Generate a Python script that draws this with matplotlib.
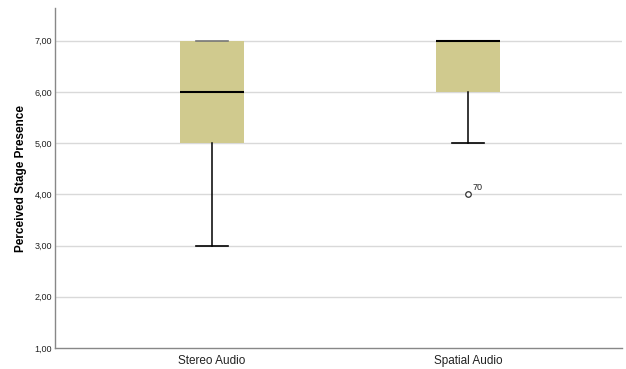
import matplotlib
matplotlib.use("Agg")
import matplotlib.pyplot as plt
from matplotlib.ticker import FuncFormatter

plt.rcParams['font.family'] = ['Liberation Sans', 'DejaVu Sans']

groups = ["Stereo Audio", "Spatial Audio"]
whisker_low = [3, 5]
q1 = [5, 6]
median = [6, 7]
q3 = [7, 7]
whisker_high = [7, 7]
outliers = [[], [4]]
outlier_ids = [[], ["70"]]
y_ticks = [1, 2, 3, 4, 5, 6, 7]

stats = []
for i, g in enumerate(groups):
    stats.append(dict(label=g, whislo=whisker_low[i], q1=q1[i], med=median[i],
                      q3=q3[i], whishi=whisker_high[i], fliers=outliers[i]))

fig = plt.figure(figsize=(6.26, 3.69), dpi=100)
ax = fig.add_axes([55 / 626, 1 - 348 / 369, 567 / 626, 340 / 369])

for t in y_ticks[1:]:
    ax.axhline(t, color="#d9d9d9", lw=1.0, zorder=0)

pos = list(range(len(groups)))
parts = ax.bxp(stats, positions=pos, widths=0.25, patch_artist=True, showfliers=True,
               boxprops=dict(facecolor="#d0ca8e", edgecolor="none"),
               medianprops=dict(color="black", lw=1.5),
               whiskerprops=dict(color="black", lw=1.1),
               capprops=dict(color="black", lw=1.2),
               capwidths=0.125,
               flierprops=dict(marker="o", markersize=4, markerfacecolor="white",
                               markeredgecolor="#333333", markeredgewidth=0.9))

# an upper cap sitting on the box edge (no median there) is drawn muted
for i in range(len(groups)):
    if whisker_high[i] == q3[i] and median[i] != q3[i]:
        parts["caps"][2 * i + 1].set_color("#777777")

for i, (vals, ids) in enumerate(zip(outliers, outlier_ids)):
    for v, lab in zip(vals, ids):
        ax.annotate(lab, (pos[i], v), xytext=(3, 3), textcoords="offset points",
                    fontsize=6.5, color="#222222")

ax.set_xlim(-0.613, 1.60)
ax.set_ylim(1, 7.64)
ax.set_yticks(y_ticks)
ax.yaxis.set_major_formatter(FuncFormatter(lambda v, p: f"{v:.2f}".replace(".", ",")))
ax.set_xticks(pos)
ax.set_xticklabels(groups, fontsize=8.5, color="#222222")
ax.tick_params(axis="y", labelsize=6.5, colors="#222222", length=0, pad=2)
ax.tick_params(axis="x", length=0, pad=5)
ax.set_ylabel("Perceived Stage Presence", fontsize=8.5, fontweight="bold", labelpad=5.5)

for s in ["top", "right"]:
    ax.spines[s].set_visible(False)
for s in ["left", "bottom"]:
    ax.spines[s].set_color("#888888")
    ax.spines[s].set_linewidth(1.0)

fig.savefig("out.png", dpi=100)
